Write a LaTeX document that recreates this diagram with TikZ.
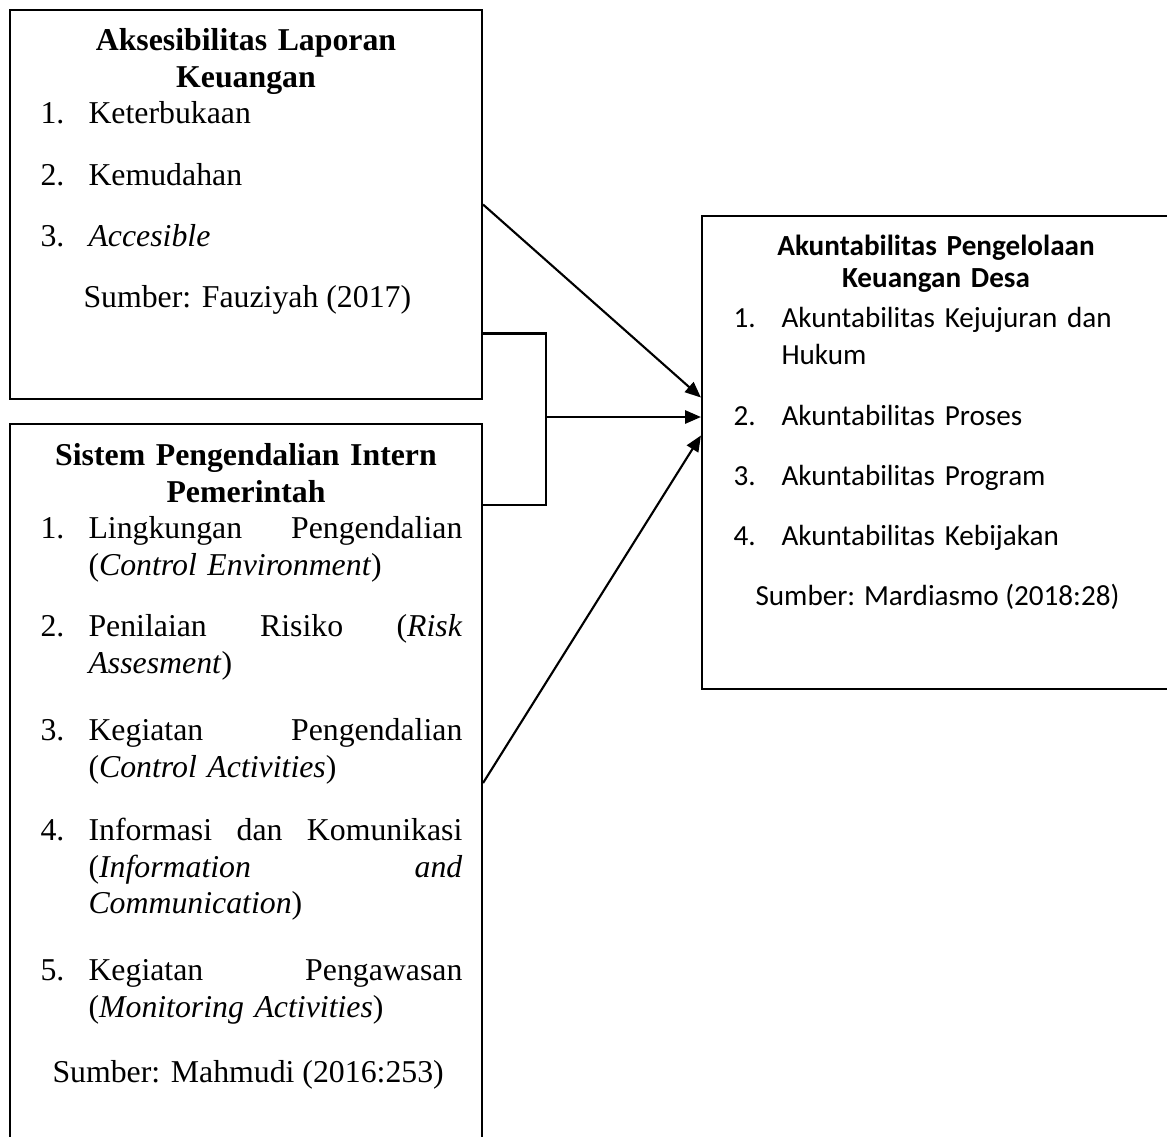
\documentclass[tikz,border=0pt]{standalone}
\usepackage{fontspec}
\setmainfont{Liberation Serif}
\newfontfamily\calibri{Carlito}
\usetikzlibrary{arrows.meta,calc,fit}

\begin{document}
\begin{tikzpicture}[x=0.3774pt,y=-0.3774pt]
        \tikzset{box/.style={draw,line width=0.8pt,inner sep=0pt},
            boxtitle/.style={anchor=base,inner sep=0pt,text width=166pt,align=center,
                font=\fontsize{12}{13.96}\selectfont\bfseries},
            numlabel/.style={anchor=base west,inner sep=0pt,font=\fontsize{12}{13.96}\selectfont},
            entry/.style={anchor=base west,inner sep=0pt,text width=141.1pt,align=left,
                font=\fontsize{12}{13.96}\selectfont},
            ctitle/.style={anchor=base,inner sep=0pt,text width=166pt,align=center,
                font=\calibri\fontsize{11}{12.45}\selectfont\bfseries},
            cnum/.style={anchor=base west,inner sep=0pt,font=\calibri\fontsize{11}{14.3}\selectfont},
            centry/.style={anchor=base west,inner sep=0pt,text width=140pt,align=left,
                font=\calibri\fontsize{11}{14.3}\selectfont},
            arr/.style={-{Triangle[length=6pt,width=5pt]},line width=0.8pt}}
        \useasboundingbox (0,0) rectangle (1167,1137);
        \clip (0,0) rectangle (1167,1137);

        % aksesibilitas
        \node[box,fit={(10,10) (482,399)}] (akses) {};
        \node[boxtitle] (akses-t) at (246,50) {Aksesibilitas Laporan\\Keuangan};
        \foreach \y/\txt [count=\i] in {123/Keterbukaan,185/Kemudahan,246/\textit{Accesible}} {
            \node[numlabel] (akses-n\i) at (40,\y) {\i.};
            \node[entry] (akses-\i) at (88,\y) {\txt};
        }
        \node[numlabel] (akses-src) at (83,307) {Sumber: Fauziyah (2017)};

        % spip
        \node[box,fit={(10,424) (482,1142)}] (sistem) {};
        \node[boxtitle] (sistem-t) at (246,465) {Sistem Pengendalian Intern\\Pemerintah};
        \foreach \y/\txt [count=\i] in {
            538/{Lingkungan\hfill Pengendalian\\(\textit{Control Environment})},
            636/{Penilaian\hfill Risiko\hfill (\textit{Risk}\\\textit{Assesment})},
            740/{Kegiatan\hfill Pengendalian\\(\textit{Control Activities})},
            840/{Informasi\hfill dan\hfill Komunikasi\\(\textit{Information}\hfill\textit{and}\\\textit{Communication})},
            980/{Kegiatan\hfill Pengawasan\\(\textit{Monitoring Activities})}} {
            \node[numlabel] (sistem-n\i) at (40,\y) {\i.};
            \node[entry] (sistem-\i) at (88,\y) {\txt};
        }
        \node[numlabel] (sistem-src) at (52,1082) {Sumber: Mahmudi (2016:253)};

        % akuntabilitas
        \node[box,fit={(702,216) (1180,689)}] (akun) {};
        \node[ctitle] (akun-t) at (936,255) {Akuntabilitas Pengelolaan\\Keuangan Desa};
        \foreach \y/\txt [count=\i] in {327/{Akuntabilitas Kejujuran dan\\Hukum},
            425/Akuntabilitas Proses,485/Akuntabilitas Program,545/Akuntabilitas Kebijakan} {
            \node[cnum] (akun-n\i) at (733,\y) {\i.};
            \node[centry] (akun-\i) at (781,\y) {\txt};
        }
        \node[cnum] (akun-src) at (755,605) {Sumber: Mardiasmo (2018:28)};

        % panah
        \coordinate (join) at (546,417);
        \draw[arr] (akses.east) -- ($(akun.west)+(0,-55)$);
        \draw[line width=0.8pt] ($(akses.east)+(0,129)$) -| (join) |- ($(sistem.east)+(0,-278)$);
        \draw[arr] (join) -- (akun.west |- join);
        \draw[arr] (sistem.east) -- ($(akun.west)+(0,-17)$);
\end{tikzpicture}
\end{document}
